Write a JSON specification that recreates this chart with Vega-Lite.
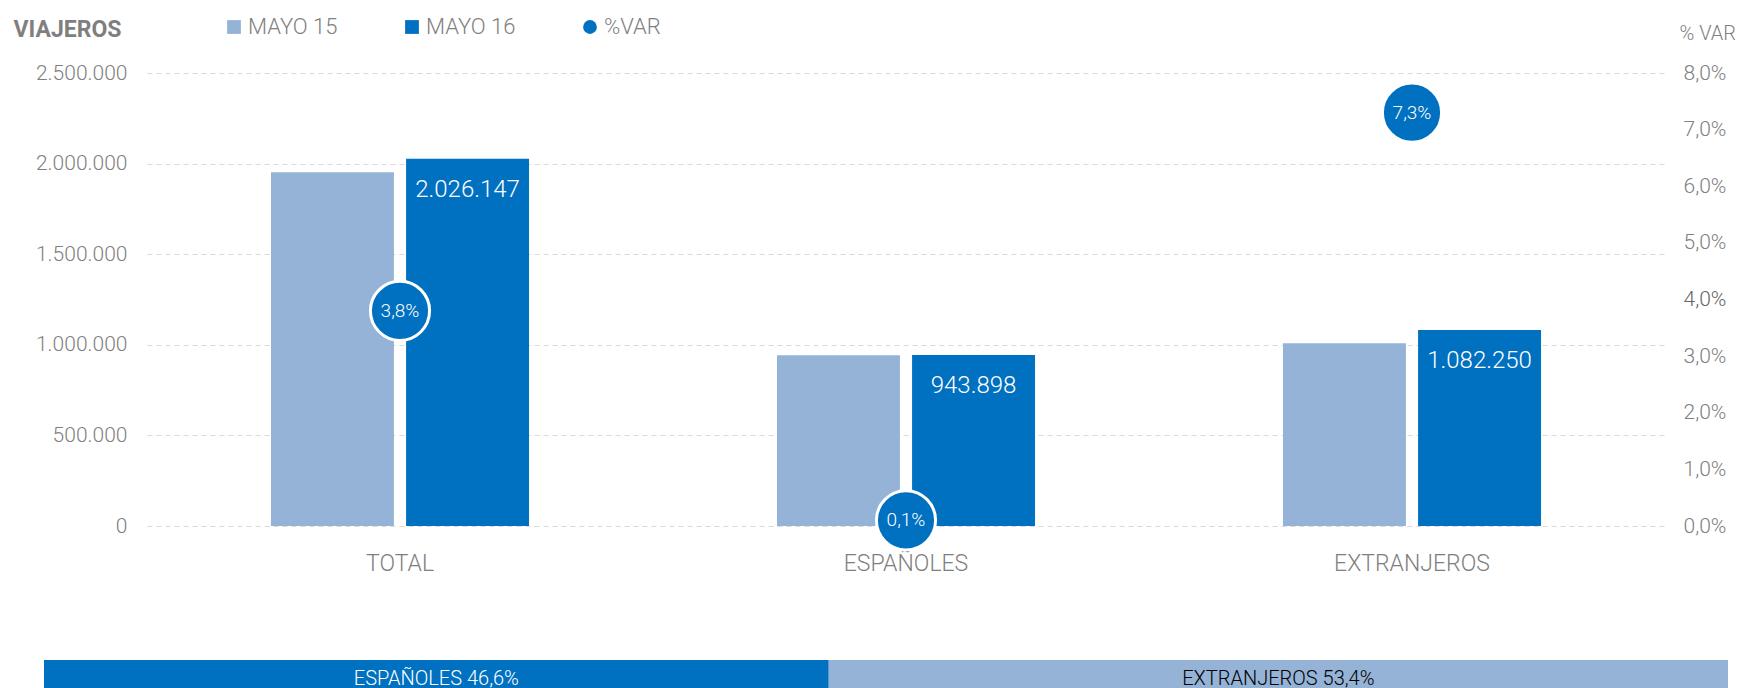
{
  "$schema": "https://vega.github.io/schema/vega-lite/v6.json",
  "padding": {"left": 13, "top": 16, "right": 0, "bottom": 0},
  "background": "white",
  "config": {
    "font": "Roboto",
    "locale": {"number": {"decimal": ",", "thousands": ".", "grouping": [3], "currency": ["", " €"]}},
    "view": {"stroke": null},
    "concat": {"spacing": 85}
  },
  "datasets": {
    "viajeros": [
      {"categoria": "TOTAL", "serie": "MAYO 15", "viajeros": 1951576},
      {"categoria": "TOTAL", "serie": "MAYO 16", "viajeros": 2026147},
      {"categoria": "ESPAÑOLES", "serie": "MAYO 15", "viajeros": 942955},
      {"categoria": "ESPAÑOLES", "serie": "MAYO 16", "viajeros": 943898},
      {"categoria": "EXTRANJEROS", "serie": "MAYO 15", "viajeros": 1008621},
      {"categoria": "EXTRANJEROS", "serie": "MAYO 16", "viajeros": 1082250}
    ],
    "variacion": [
      {"categoria": "TOTAL", "serie": "%VAR", "var": 0.038},
      {"categoria": "ESPAÑOLES", "serie": "%VAR", "var": 0.001},
      {"categoria": "EXTRANJEROS", "serie": "%VAR", "var": 0.073}
    ],
    "cuota": [
      {"reparto": "MAYO 16", "parte": "ESPAÑOLES", "desde": 0, "hasta": 46.6, "etiqueta": "ESPAÑOLES 46,6%"},
      {"reparto": "MAYO 16", "parte": "EXTRANJEROS", "desde": 46.6, "hasta": 100, "etiqueta": "EXTRANJEROS 53,4%"}
    ]
  },
  "vconcat": [
    {
      "width": 1518,
      "height": 453,
      "encoding": {
        "x": {
          "field": "categoria", "type": "nominal",
          "sort": ["TOTAL", "ESPAÑOLES", "EXTRANJEROS"],
          "scale": {"paddingInner": 0.49, "paddingOuter": 0.245},
          "axis": {"title": null, "labelAngle": 0, "labelFontSize": 23, "labelColor": "#7f7f7f", "labelFontWeight": 300, "domain": false, "ticks": false, "labelPadding": 26, "labelBaseline": "top"}
        }
      },
      "layer": [
        {
          "data": {"name": "viajeros"},
          "encoding": {
            "xOffset": {"field": "serie", "type": "nominal", "scale": {"paddingInner": 0.09, "paddingOuter": 0}},
            "y": {
              "field": "viajeros", "type": "quantitative",
              "scale": {"domain": [0, 2500000]},
              "title": "VIAJEROS",
              "axis": {
                "orient": "left",
                "values": [0, 500000, 1000000, 1500000, 2000000, 2500000],
                "format": ",d",
                "titleAngle": 0, "titleAlign": "left", "titleBaseline": "middle",
                "titleX": -134, "titleY": -44,
                "titleFontSize": 23, "titleFontWeight": "bold", "titleColor": "#7f7f7f",
                "labelFontSize": 21, "labelColor": "#808080", "labelFontWeight": 300, "labelPadding": 20,
                "domain": false, "ticks": false,
                "grid": true, "gridColor": "#d9d9d9", "gridDash": [5, 4], "gridWidth": 1
              }
            }
          },
          "layer": [
            {
              "mark": {"type": "bar"},
              "encoding": {
                "color": {
                  "field": "serie", "type": "nominal",
                  "scale": {"domain": ["MAYO 15", "MAYO 16", "%VAR"], "range": ["#95B3D7", "#0070C0", "#0070C0"]},
                  "legend": {
                    "orient": "none", "legendX": 76, "legendY": -57, "direction": "horizontal", "columns": 3, "title": null,
                    "columnPadding": 63, "labelFontSize": 22, "labelColor": "#808080", "labelFontWeight": 300,
                    "symbolSize": 190, "labelOffset": 3, "symbolStrokeWidth": 0,
                    "encode": {"symbols": {"update": {"shape": {"signal": "datum.value === '%VAR' ? 'circle' : 'square'"}}}}
                  }
                }
              }
            },
            {
              "transform": [{"filter": "datum.serie === 'MAYO 16'"}],
              "mark": {"type": "text", "color": "white", "fontSize": 24, "fontWeight": 300, "baseline": "middle", "dy": 31},
              "encoding": {"text": {"field": "viajeros", "type": "quantitative", "format": ",d"}}
            }
          ]
        },
        {
          "data": {"name": "variacion"},
          "encoding": {
            "y": {
              "field": "var", "type": "quantitative",
              "scale": {"domain": [0, 0.08]},
              "title": "% VAR",
              "axis": {
                "orient": "right",
                "values": [0, 0.01, 0.02, 0.03, 0.04, 0.05, 0.06, 0.07, 0.08],
                "format": ".1%",
                "titleAngle": 0, "titleAlign": "left", "titleBaseline": "middle",
                "titleX": 14, "titleY": -40,
                "titleFontSize": 20, "titleFontWeight": 300, "titleColor": "#808080",
                "labelFontSize": 21, "labelFontWeight": 300, "labelPadding": 18,
                "labelColor": {"condition": {"test": "datum.value === 0.04", "value": "#666666"}, "value": "#808080"},
                "domain": false, "ticks": false, "grid": false
              }
            }
          },
          "layer": [
            {
              "mark": {"type": "point", "shape": "circle", "filled": true, "size": 3500, "stroke": "white", "strokeWidth": 3, "opacity": 1},
              "encoding": {
                "color": {"field": "serie", "type": "nominal", "legend": null}
              }
            },
            {
              "mark": {"type": "text", "color": "white", "fontSize": 19, "fontWeight": 300, "baseline": "middle"},
              "encoding": {"text": {"field": "var", "type": "quantitative", "format": ".1%"}}
            }
          ]
        }
      ],
      "resolve": {"scale": {"y": "independent"}}
    },
    {
      "data": {"name": "cuota"},
      "width": 1581,
      "height": 38,
      "encoding": {
        "y": {"field": "reparto", "type": "nominal", "scale": {"paddingInner": 0, "paddingOuter": 0}, "axis": null}
      },
      "layer": [
        {
          "mark": {"type": "bar"},
          "encoding": {
            "x": {"field": "desde", "type": "quantitative", "scale": {"domain": [0, 100], "range": [-103, 1581]}, "axis": null},
            "x2": {"field": "hasta"},
            "color": {"field": "parte", "type": "nominal", "scale": {"domain": ["ESPAÑOLES", "EXTRANJEROS"], "range": ["#0070C0", "#95B3D7"]}, "legend": null}
          }
        },
        {
          "transform": [{"fold": ["desde", "hasta"], "as": ["extremo", "pos"]}],
          "mark": {"type": "text", "fontSize": 20, "fontWeight": 300, "baseline": "middle"},
          "encoding": {
            "x": {"aggregate": "mean", "field": "pos", "type": "quantitative", "axis": null},
            "text": {"field": "etiqueta", "type": "nominal"},
            "detail": {"field": "parte", "type": "nominal"},
            "color": {"condition": {"test": "datum.parte === 'ESPAÑOLES'", "value": "white"}, "value": "black"}
          }
        }
      ]
    }
  ],
  "resolve": {"scale": {"color": "independent", "x": "independent"}}
}
